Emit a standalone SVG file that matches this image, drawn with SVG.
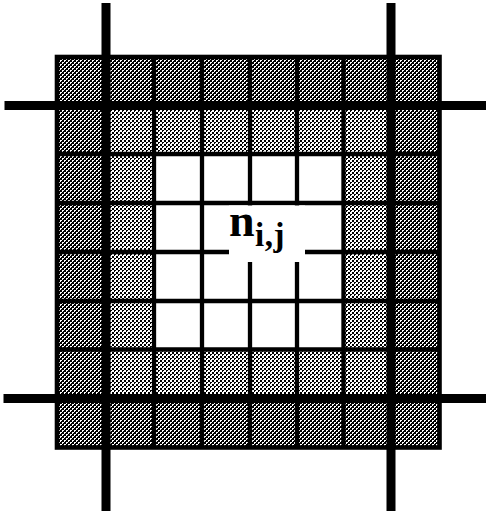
<svg xmlns="http://www.w3.org/2000/svg" width="486" height="514" viewBox="0 0 486 514">
  <style>
    .thin { stroke: #000; stroke-width: 4.3; fill: none; }
    .thick { stroke: #000; stroke-width: 9; fill: none; }
    .border { stroke: #000; stroke-width: 4.6; fill: none; }
    .lbl { font-family: "Liberation Serif", "Times New Roman", serif; font-weight: bold; fill: #000; }
  </style>
  <defs>
    <pattern id="dark" width="4" height="4" patternUnits="userSpaceOnUse">
      <rect width="4" height="4" fill="#000"/>
      <rect x="0" y="0" width="2" height="1" fill="#fff"/>
      <rect x="0" y="1" width="1" height="1" fill="#fff"/>
      <rect x="2" y="2" width="2" height="1" fill="#fff"/>
      <rect x="2" y="3" width="1" height="1" fill="#fff"/>
    </pattern>
    <pattern id="light" width="4" height="4" patternUnits="userSpaceOnUse">
      <rect width="4" height="4" fill="#fff"/>
      <rect x="0" y="0" width="2" height="2" fill="#000"/>
      <rect x="2" y="2" width="2" height="1" fill="#000"/>
      <rect x="2" y="3" width="1" height="1" fill="#000"/>
    </pattern>
  </defs>
  <rect width="486" height="514" fill="#fff"/>

  <g id="cells">
    <rect id="outer-ring" x="57" y="57" width="382.5" height="390.5" fill="url(#dark)"/>
    <rect id="middle-ring" x="105.5" y="105.5" width="285.5" height="293" fill="url(#light)"/>
    <rect id="inner-block" x="154" y="154" width="189.5" height="195.5" fill="#fff"/>
  </g>

  <g id="grid-lines">
    <path class="thin" d="M154 57V447.5 M202 57V447.5 M250 57V447.5 M297 57V447.5 M343.5 57V447.5"/>
    <path class="thin" d="M57 154H439.5 M57 203H439.5 M57 252H439.5 M57 301H439.5 M57 349.5H439.5"/>
    <rect class="border" x="57" y="57" width="382.5" height="390.5"/>
  </g>

  <g id="thick-lines">
    <path class="thick" d="M106 3V511 M391 3V511"/>
    <path class="thick" d="M4.5 105.5H486 M3.5 398.5H486"/>
  </g>

  <g id="node-nij">
    <rect x="229" y="205.5" width="76" height="56.5" fill="#fff"/>
    <text class="lbl" x="229" y="235.5" font-size="46">n</text>
    <text class="lbl" x="255" y="246" font-size="33" letter-spacing="0.5">i,j</text>
  </g>
</svg>
